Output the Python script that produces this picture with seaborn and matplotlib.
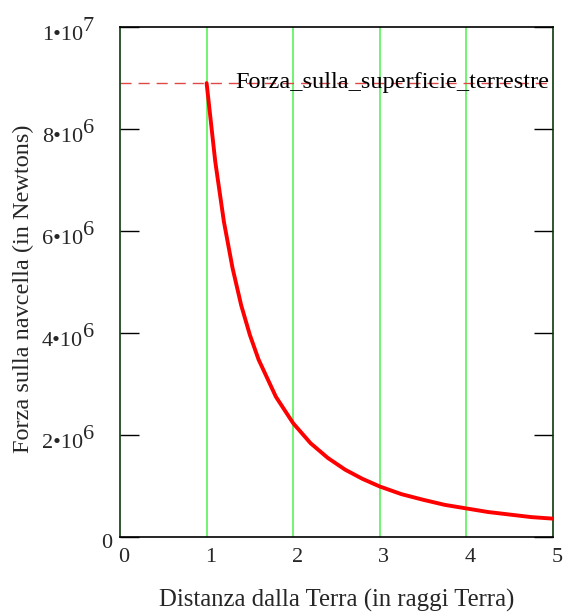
import matplotlib
matplotlib.use("Agg")
import matplotlib.pyplot as plt
import matplotlib.transforms as mtransforms
import seaborn as sns
import pandas as pd

# Data
distanza = [1.0, 1.1, 1.2, 1.3, 1.4, 1.5, 1.6, 1.8, 2.0, 2.2, 2.4, 2.6, 2.8,
            3.0, 3.25, 3.5, 3.75, 4.0, 4.25, 4.5, 4.75, 5.0]
forza = [8.90e6, 7.36e6, 6.18e6, 5.27e6, 4.54e6, 3.96e6, 3.48e6, 2.75e6,
         2.23e6, 1.84e6, 1.55e6, 1.32e6, 1.14e6, 0.99e6, 0.84e6, 0.73e6,
         0.63e6, 0.56e6, 0.49e6, 0.44e6, 0.39e6, 0.36e6]
forza_superficie = 8.9e6
x_ticks = [0, 1, 2, 3, 4, 5]
y_ticks = [0, 2e6, 4e6, 6e6, 8e6, 1e7]
y_tick_base = ["0", "2•10", "4•10", "6•10", "8•10", "1•10"]
y_tick_exp = ["", "6", "6", "6", "6", "7"]
grid_x = [1, 2, 3, 4]

sns.set_theme(style="white")
plt.rcParams['font.family'] = ['Liberation Serif', 'DejaVu Serif']

fig = plt.figure(figsize=(5.63, 6.12), dpi=100)
ax = fig.add_axes([120/563, 75/612, 433/563, 510/612])

for gx in grid_x:
    ax.axvline(gx, color='#4cf04c', lw=1.1, zorder=1)

ax.axhline(forza_superficie, color='#e04848', lw=1.0, ls=(0, (8, 5)), zorder=2)

df = pd.DataFrame({"d": distanza, "f": forza})
sns.lineplot(data=df, x="d", y="f", ax=ax, color='#ff0000', lw=2.8, zorder=3)

ax.annotate("Forza_sulla_superficie_terrestre", xy=(3.14, forza_superficie),
            xytext=(0, -5), textcoords='offset pixels',
            fontsize=17.5, ha='center', va='baseline', color='black', zorder=4)

ax.set_xlim(0, 5)
ax.set_ylim(0, 1e7)
ax.set_xticks(x_ticks)
ax.set_xticklabels([str(t) for t in x_ticks], fontsize=16)
ax.set_yticks(y_ticks)
ax.set_yticklabels([])
ax.tick_params(axis='y', direction='in', length=14, width=1, right=True, left=True, color='black')
ax.tick_params(axis='x', direction='in', length=0, pad=8)

# shift x tick labels slightly to the right, as in the reference
shift = mtransforms.ScaledTranslation(4/100, 0, fig.dpi_scale_trans)
for lbl in ax.get_xticklabels():
    lbl.set_transform(lbl.get_transform() + shift)

# y tick labels with full-size exponents
for yv, base, ex in zip(y_ticks, y_tick_base, y_tick_exp):
    if ex:
        ax.annotate(base, xy=(0, yv), xycoords=('axes fraction', 'data'),
                    xytext=(-37, -13), textcoords='offset pixels',
                    ha='right', va='baseline', fontsize=16, annotation_clip=False)
        ax.annotate(ex, xy=(0, yv), xycoords=('axes fraction', 'data'),
                    xytext=(-37, -4), textcoords='offset pixels',
                    ha='left', va='baseline', fontsize=16, annotation_clip=False)
    else:
        ax.annotate(base, xy=(0, yv), xycoords=('axes fraction', 'data'),
                    xytext=(-8, -11), textcoords='offset pixels',
                    ha='right', va='baseline', fontsize=16, annotation_clip=False)

for s in ax.spines.values():
    s.set_color('black')
    s.set_linewidth(1.2)
ax.spines['left'].set_color('#0a3a0a')
ax.spines['right'].set_color('#0a3a0a')

ax.set_xlabel("Distanza dalla Terra (in raggi Terra)", fontsize=17.8, labelpad=16)
ax.set_ylabel("Forza sulla navcella (in Newtons)", fontsize=17.5)
ax.yaxis.set_label_coords(-0.199, 0.486)

fig.savefig("out.png", dpi=100)
